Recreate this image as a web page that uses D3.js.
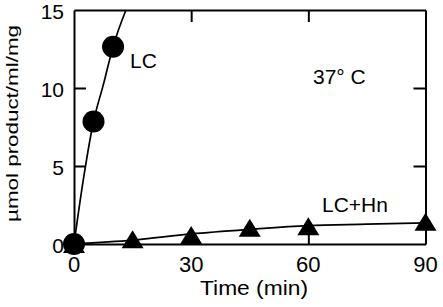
<!DOCTYPE html>
<html lang="en">

<head>
    <meta charset="UTF-8">
    <title>Product vs Time</title>
    <style>
        body { margin: 0; background: #fff; }
        svg text { font-family: "Liberation Sans", Arial, sans-serif; fill: #000; }
    </style>
</head>

<body>
    <div id="chart"></div>

    <script src="https://cdnjs.cloudflare.com/ajax/libs/d3/7.8.5/d3.min.js"></script>
    <script>
        // Measured points
        const lcTime = [0, 5, 10];
        const lcValue = [0, 7.85, 12.65];
        const lcHnTime = [0, 15, 30, 45, 60, 90];
        const lcHnValue = [0, 0.3, 0.58, 1.04, 1.14, 1.43];

        // Fitted curves as drawn in the figure
        const lcFitTime = [0, 2.5, 5, 7.5, 10, 13.3];
        const lcFitValue = [0, 4.3, 7.85, 10.2, 12.65, 15];
        const lcHnFitTime = [0, 15, 30, 45, 60, 75, 90];
        const lcHnFitValue = [0, 0.25, 0.65, 0.94, 1.18, 1.27, 1.36];

        const xTicks = [0, 30, 60, 90];
        const yTicks = [0, 5, 10, 15];

        document.addEventListener("DOMContentLoaded", () => {
            const width = 443, height = 307;
            const margin = { top: 10, right: 17.5, bottom: 63, left: 74 };

            const svg = d3.select("#chart").append("svg")
                .attr("width", width)
                .attr("height", height);

            const x = d3.scaleLinear().domain([0, 90]).range([margin.left, width - margin.right]);
            const y = d3.scaleLinear().domain([0, 15]).range([height - margin.bottom, margin.top]);

            // Frame with inward ticks on all four sides
            const innerTicks = (axis, vals) => axis.tickValues(vals).tickSizeInner(-12).tickSizeOuter(0).tickFormat("");

            const styleAxis = g => {
                g.selectAll(".domain").attr("stroke", "#000").attr("stroke-width", 2);
                g.selectAll(".tick line").attr("stroke", "#000").attr("stroke-width", 2);
            };

            svg.append("g").attr("transform", `translate(0,${y(0)})`)
                .call(innerTicks(d3.axisBottom(x), [30, 60])).call(styleAxis);
            svg.append("g").attr("transform", `translate(0,${y(15)})`)
                .call(innerTicks(d3.axisTop(x), [30, 60])).call(styleAxis);
            svg.append("g").attr("transform", `translate(${x(0)},0)`)
                .call(innerTicks(d3.axisLeft(y), [5, 10])).call(styleAxis);
            svg.append("g").attr("transform", `translate(${x(90)},0)`)
                .call(innerTicks(d3.axisRight(y), [5, 10])).call(styleAxis);

            // Tick labels
            svg.append("g").selectAll("text").data(xTicks).join("text")
                .attr("x", d => x(d))
                .attr("y", y(0) + 28)
                .attr("text-anchor", "middle")
                .attr("font-size", 22)
                .text(d => d);

            svg.append("g").selectAll("text").data(yTicks).join("text")
                .attr("x", x(0) - 10)
                .attr("y", d => y(d))
                .attr("dy", "0.45em")
                .attr("text-anchor", "end")
                .attr("font-size", 21)
                .text(d => d);

            // Axis titles
            svg.append("text")
                .attr("x", 254)
                .attr("y", 295)
                .attr("text-anchor", "middle")
                .attr("font-size", 21)
                .attr("textLength", 108)
                .attr("lengthAdjust", "spacingAndGlyphs")
                .text("Time (min)");

            svg.append("text")
                .attr("transform", "translate(17.5,123.5) rotate(-90)")
                .attr("text-anchor", "middle")
                .attr("font-size", 17)
                .attr("textLength", 197)
                .attr("lengthAdjust", "spacingAndGlyphs")
                .text("\u00b5mol product/ml/mg");

            // Curves
            const line = d3.line().x(d => x(d[0])).y(d => y(d[1])).curve(d3.curveMonotoneX);

            svg.append("path")
                .datum(d3.zip(lcFitTime, lcFitValue))
                .attr("fill", "none")
                .attr("stroke", "#000")
                .attr("stroke-width", 1.7)
                .attr("d", line);

            svg.append("path")
                .datum(d3.zip(lcHnFitTime, lcHnFitValue))
                .attr("fill", "none")
                .attr("stroke", "#000")
                .attr("stroke-width", 1.7)
                .attr("d", line);

            // Markers: triangles then circles (circle at origin sits on top)
            const tw = 22, th = 18;
            svg.append("g").selectAll("path").data(d3.zip(lcHnTime, lcHnValue)).join("path")
                .attr("transform", d => `translate(${x(d[0])},${y(d[1])})`)
                .attr("d", `M0,${-th / 2}L${tw / 2},${th / 2}L${-tw / 2},${th / 2}Z`)
                .attr("fill", "#000");

            svg.append("g").selectAll("circle").data(d3.zip(lcTime, lcValue)).join("circle")
                .attr("cx", d => x(d[0]))
                .attr("cy", d => y(d[1]))
                .attr("r", 11)
                .attr("fill", "#000");

            // Annotations
            svg.append("text").attr("x", 130).attr("y", 68).attr("font-size", 21).text("LC");
            svg.append("text").attr("x", 313).attr("y", 84).attr("font-size", 21).text("37\u00b0 C");
            svg.append("text").attr("x", 322).attr("y", 211.5).attr("font-size", 21).text("LC+Hn");
        });
    </script>
</body>

</html>
